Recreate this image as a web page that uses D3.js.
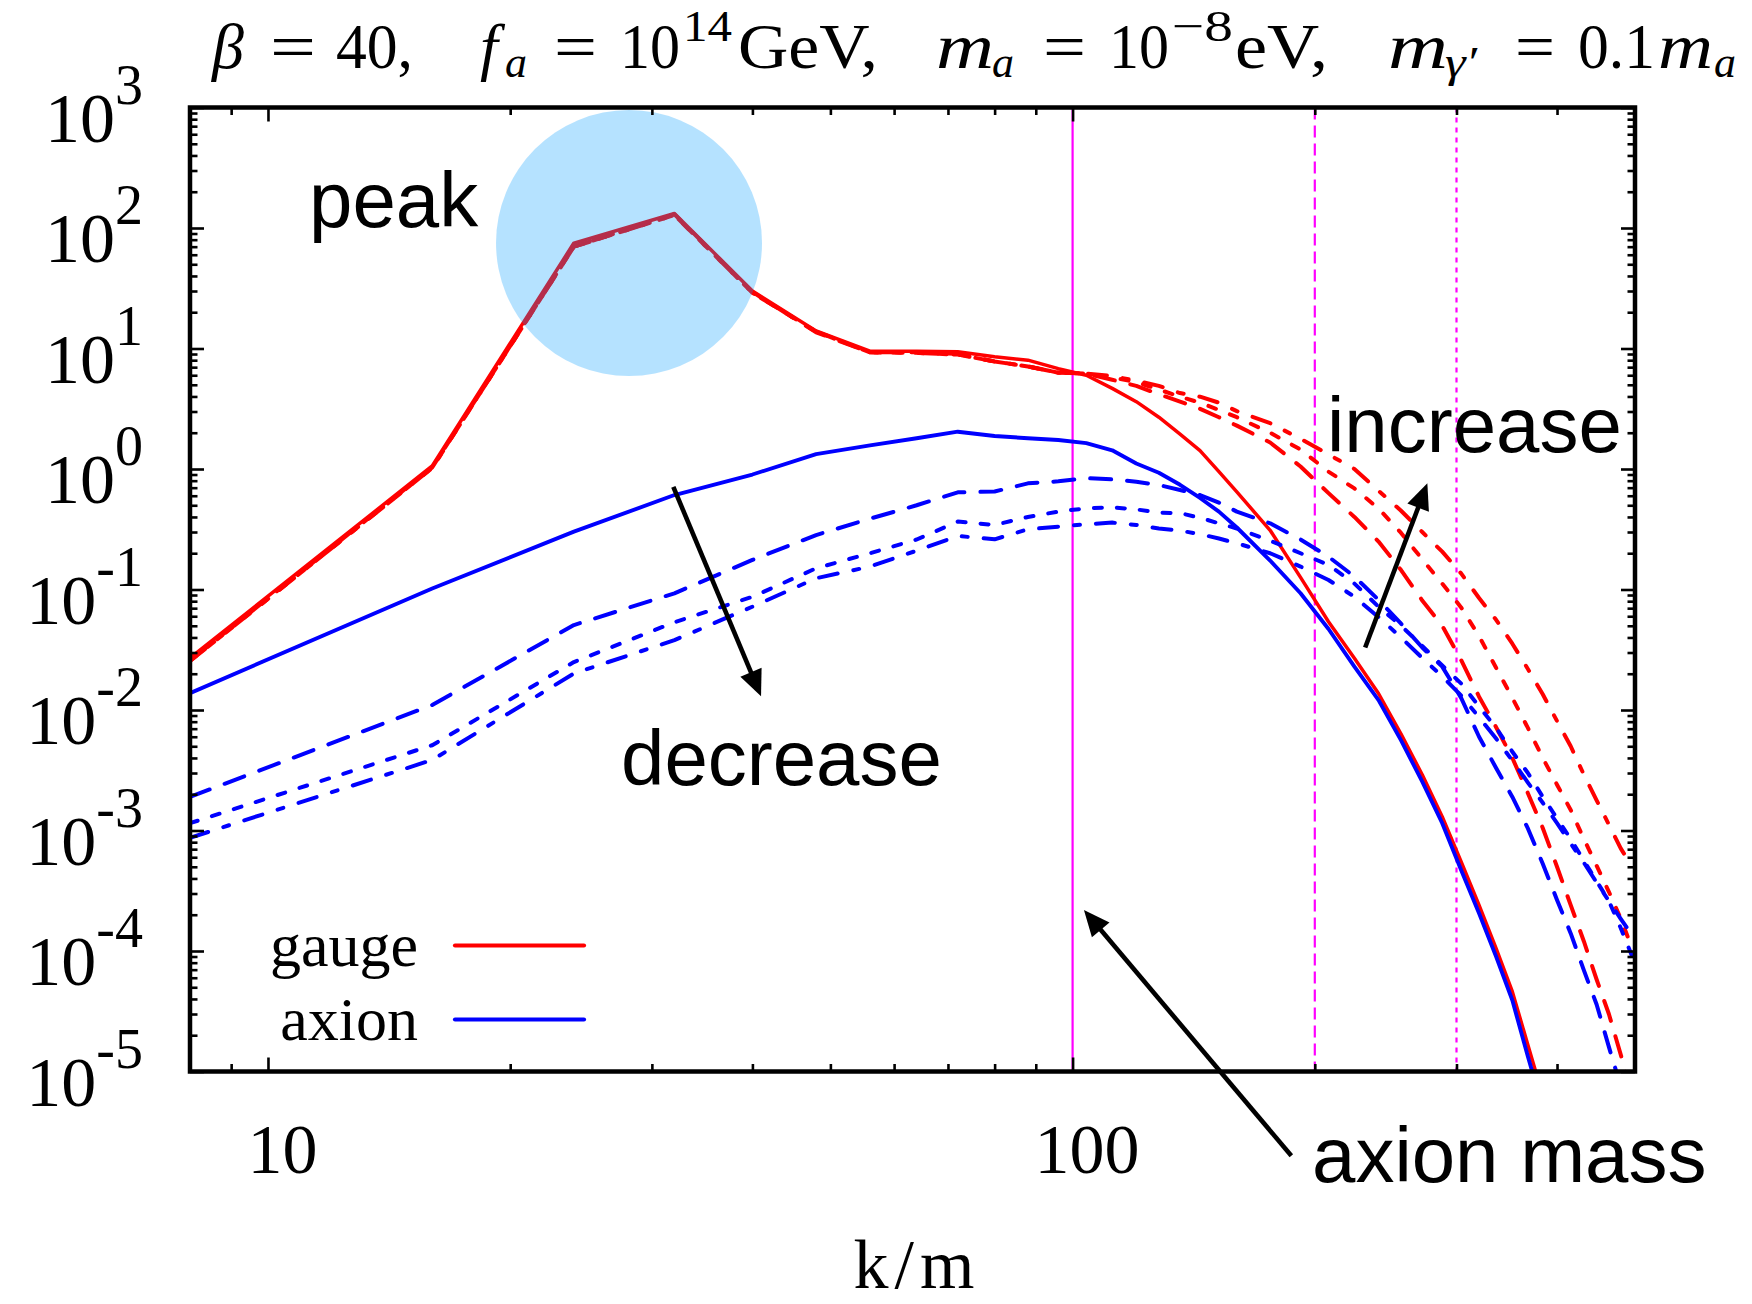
<!DOCTYPE html>
<html>
<head>
<meta charset="utf-8">
<script src="https://cdn.jsdelivr.net/npm/d3@7"></script>
<style>
  html, body { margin: 0; padding: 0; background: #fff; }
  svg { display: block; }
</style>
</head>
<body>
<svg id="chart" width="1752" height="1304"></svg>
<script>
// Wavenumber grid k/m shared by all spectra
const kGrid = [8,16,24,32,40,48,56,64,72,80,88,96,104,112,120,128,136,144,152,160,
               176,192,208,224,240,256,272,288,304,320,336,352,368,384,400,416,432,448,464,480,496];

// Gauge-field spectra (four dark-photon cases)
const gaugeSolid = [0.027,1.06,75,132,30,14.0,9.5,9.5,9.4,8.55,8.0,6.8,6.0,4.67,3.62,2.69,1.95,1.42,0.95,0.645,
                    0.31,0.126,0.054,0.0269,0.0137,0.0063,0.0029,0.0013,0.00055,0.00024,0.000105,4.6e-5,1.66e-5,6.3e-6];
const gaugeLong = [0.0258,1.03,70,130,29.5,13.6,9.3,9.3,9.0,7.8,7.1,6.3,6.2,5.5,4.9,4.17,3.63,3.16,2.69,2.29,
                   1.66,1.05,0.63,0.40,0.25,0.145,0.081,0.050,0.026,0.0129,0.0072,0.0040,0.00204,0.00105,0.0005,0.00024,0.00012,5.8e-5,3.0e-5,1.38e-5,6.3e-6];
const gaugeShort = [0.0255,1.02,70,128,29,13.8,9.3,9.2,8.9,7.8,7.1,6.3,6.2,5.75,5.25,4.57,3.98,3.55,3.09,2.69,
                    2.0,1.45,0.95,0.69,0.47,0.295,0.178,0.112,0.071,0.041,0.0224,0.0126,0.0071,0.0040,0.0024,0.00148,0.00085,0.00051,0.00031,0.000186,0.000105];
const gaugeDashDot = [0.0255,1.02,70,128,29,13.8,9.3,9.2,8.9,7.8,7.1,6.3,6.2,5.9,5.4,4.9,4.27,3.98,3.55,3.02,
                      2.4,1.78,1.32,1.0,0.66,0.45,0.30,0.206,0.136,0.085,0.056,0.0355,0.0219,0.0135,0.0081,0.0050,0.0029,0.00178,0.00112,0.00071,0.0005];

// Axion spectra (same four cases)
const axionSolid = [0.0138,0.102,0.302,0.608,0.90,1.33,1.57,1.80,2.04,1.88,1.80,1.74,1.64,1.43,1.11,0.93,0.74,0.575,0.443,0.327,
                    0.174,0.093,0.047,0.0229,0.0121,0.0056,0.00254,0.00115,0.00047,0.000206,9.0e-5,3.9e-5,1.33e-5,5e-6];
const axionLong = [0.0019,0.011,0.0507,0.093,0.176,0.283,0.387,0.50,0.64,0.65,0.76,0.79,0.84,0.82,0.785,0.736,0.67,0.608,0.526,0.443,
                   0.354,0.26,0.187,0.128,0.082,0.052,0.033,0.0229,0.0126,0.0060,0.0033,0.0019,0.00104,0.00053,0.000265,0.00014,6.9e-5,3.6e-5,1.6e-5,7.5e-6];
const axionShort = [0.00115,0.0051,0.025,0.0535,0.087,0.15,0.20,0.26,0.366,0.343,0.40,0.443,0.472,0.481,0.462,0.435,0.43,0.394,0.354,0.321,
                    0.254,0.20,0.16,0.112,0.072,0.050,0.034,0.0234,0.0166,0.0107,0.0071,0.0045,0.0030,0.0019,0.00126,0.00085,0.00056,0.00038,0.00026,0.000155,9.0e-5];
const axionDashDot = [0.00087,0.00385,0.0201,0.038,0.072,0.124,0.155,0.21,0.278,0.261,0.316,0.332,0.348,0.359,0.343,0.321,0.308,0.288,0.265,0.242,
                      0.20,0.155,0.12,0.087,0.059,0.040,0.027,0.019,0.0132,0.0087,0.0058,0.0038,0.0025,0.0017,0.00115,0.00078,0.00054,0.00037,0.00026,0.000185,0.000135];

// Mass scales marked by vertical lines (k/m)
const massLines = [100, 200, 300];

// Axis ticks
const xMajorTicks = [10, 100];
const xTickLabels = ["10", "100"];
const yExponents = [-5, -4, -3, -2, -1, 0, 1, 2, 3];

// Legend entries
const legendLabels = ["gauge", "axion"];

// Annotations (in data coordinates)
const peakSpot = { k: 28.1, v: 75 };
const arrowDecrease = { from: [31.9, 0.71], to: [41, 0.013] };
const arrowIncrease = { from: [231, 0.033], to: [276, 0.76] };
const arrowMass = { from: [187, 2.0e-6], to: [103.3, 2.19e-4] };

// ---------------------------------------------------------------
const svg = d3.select("#chart");
const SERIF = "'Liberation Serif', 'Times New Roman', serif";
const SANS = "'Liberation Sans', Arial, Helvetica, sans-serif";

const plot = { left: 190, right: 1635, top: 107.5, bottom: 1071.5 };
const x = d3.scaleLog().domain([8, 500]).range([plot.left, plot.right]);
const y = d3.scaleLog().domain([1e-5, 1e3]).range([plot.bottom, plot.top]);

svg.append("rect").attr("width", 1752).attr("height", 1304).attr("fill", "#fff");

svg.append("defs").append("clipPath").attr("id", "plotClip")
  .append("rect")
  .attr("x", plot.left).attr("y", plot.top)
  .attr("width", plot.right - plot.left).attr("height", plot.bottom - plot.top);

// Vertical mass lines
const massStyles = ["none", "12,6", "5,5"];
svg.append("g").selectAll("line").data(massLines).join("line")
  .attr("x1", d => x(d)).attr("x2", d => x(d))
  .attr("y1", plot.top).attr("y2", plot.bottom)
  .attr("stroke", "#ff00ff").attr("stroke-width", 2.2)
  .attr("stroke-dasharray", (d, i) => massStyles[i]);

// Spectra
const LW = 4.0;
const dashLong = "21,16";
const dashShort = "8,15";
const dashDot = "19,16,6,16";
const series = [
  { values: gaugeDashDot, color: "#ff0000", dash: dashDot },
  { values: gaugeShort, color: "#ff0000", dash: dashShort },
  { values: gaugeLong, color: "#ff0000", dash: dashLong },
  { values: gaugeSolid, color: "#ff0000", dash: null, lw: 3.5 },
  { values: axionDashDot, color: "#0000ff", dash: dashDot },
  { values: axionShort, color: "#0000ff", dash: dashShort },
  { values: axionLong, color: "#0000ff", dash: dashLong },
  { values: axionSolid, color: "#0000ff", dash: null, lw: 3.9 }
];

const line = d3.line().x(d => x(d[0])).y(d => y(d[1]));
const gLines = svg.append("g").attr("clip-path", "url(#plotClip)");
series.forEach(s => {
  const pts = s.values.map((v, i) => [kGrid[i], v]);
  gLines.append("path")
    .attr("d", line(pts))
    .attr("fill", "none")
    .attr("stroke", s.color)
    .attr("stroke-width", s.lw || LW)
    .attr("stroke-linejoin", "round")
    .attr("stroke-linecap", s.dash ? "round" : "butt")
    .attr("stroke-dasharray", s.dash);
});

// Translucent highlight around the spectral peak
svg.append("circle")
  .attr("cx", x(peakSpot.k)).attr("cy", y(peakSpot.v)).attr("r", 133)
  .attr("fill", "rgb(0,156,255)").attr("fill-opacity", 0.29);

// Axes: ticks on all four sides, pointing inwards
const xMinor = x.ticks().filter(t => !xMajorTicks.includes(t) && t > 8 && t < 500);
const yMajor = yExponents.map(e => Math.pow(10, e));
const yMinor = y.ticks().filter(t => {
  const l = Math.log10(t);
  return Math.abs(l - Math.round(l)) > 1e-6;
});

function styleAxis(g) {
  g.select(".domain").remove();
  g.selectAll(".tick line").attr("stroke", "#000").attr("stroke-width", 2.6);
  g.selectAll(".tick text").remove();
}
const MAJ = 14, MIN = 7.5;
svg.append("g").attr("transform", `translate(0,${plot.bottom})`)
  .call(d3.axisBottom(x).tickValues(xMajorTicks).tickSize(-MAJ).tickFormat("")).call(styleAxis);
svg.append("g").attr("transform", `translate(0,${plot.bottom})`)
  .call(d3.axisBottom(x).tickValues(xMinor).tickSize(-MIN).tickFormat("")).call(styleAxis);
svg.append("g").attr("transform", `translate(0,${plot.top})`)
  .call(d3.axisTop(x).tickValues(xMajorTicks).tickSize(-MAJ).tickFormat("")).call(styleAxis);
svg.append("g").attr("transform", `translate(0,${plot.top})`)
  .call(d3.axisTop(x).tickValues(xMinor).tickSize(-MIN).tickFormat("")).call(styleAxis);
svg.append("g").attr("transform", `translate(${plot.left},0)`)
  .call(d3.axisLeft(y).tickValues(yMajor).tickSize(-MAJ).tickFormat("")).call(styleAxis);
svg.append("g").attr("transform", `translate(${plot.left},0)`)
  .call(d3.axisLeft(y).tickValues(yMinor).tickSize(-MIN).tickFormat("")).call(styleAxis);
svg.append("g").attr("transform", `translate(${plot.right},0)`)
  .call(d3.axisRight(y).tickValues(yMajor).tickSize(-MAJ).tickFormat("")).call(styleAxis);
svg.append("g").attr("transform", `translate(${plot.right},0)`)
  .call(d3.axisRight(y).tickValues(yMinor).tickSize(-MIN).tickFormat("")).call(styleAxis);

// Frame
svg.append("rect")
  .attr("x", plot.left).attr("y", plot.top)
  .attr("width", plot.right - plot.left).attr("height", plot.bottom - plot.top)
  .attr("fill", "none").attr("stroke", "#000").attr("stroke-width", 4.5);

// Y tick labels 10^e
const yLab = svg.append("g").attr("font-family", SERIF).attr("fill", "#000");
yExponents.forEach(e => {
  const t = yLab.append("text")
    .attr("x", 143).attr("y", y(Math.pow(10, e)) + 34)
    .attr("text-anchor", "end").attr("font-size", 70);
  t.append("tspan").text("10");
  t.append("tspan").attr("dy", -38).attr("font-size", 56).text(e < 0 ? "-" + Math.abs(e) : String(e));
});

// X tick labels
svg.append("g").selectAll("text").data(xMajorTicks).join("text")
  .attr("x", d => x(d) + 14.5).attr("y", 1173)
  .attr("text-anchor", "middle")
  .attr("font-family", SERIF).attr("font-size", 70)
  .text((d, i) => xTickLabels[i]);

// X axis title
const xt = svg.append("text").attr("x", 914).attr("y", 1288)
  .attr("text-anchor", "middle").attr("font-family", SERIF).attr("font-size", 70);
xt.append("tspan").text("k");
xt.append("tspan").attr("dx", 6).text("/");
xt.append("tspan").attr("dx", 6).text("m");

// Title (math-style parameters line)
const titleParts = [
  { t: "β", x: 212, it: true },
  { t: "=", x: 270, w: 46 },
  { t: "40,", x: 336, w: 77 },
  { t: "f", x: 480, it: true },
  { t: "a", x: 505, kind: "sub", it: true },
  { t: "=", x: 554, w: 43 },
  { t: "10", x: 620, w: 60 },
  { t: "14", x: 683, kind: "sup", w: 49 },
  { t: "GeV,", x: 738, w: 140 },
  { t: "m", x: 936, it: true, w: 58 },
  { t: "a", x: 992, kind: "sub", it: true },
  { t: "=", x: 1043, w: 43 },
  { t: "10", x: 1109, w: 60 },
  { t: "−8", x: 1172, kind: "sup", w: 61 },
  { t: "eV,", x: 1235, w: 93 },
  { t: "m", x: 1388, it: true, w: 60 },
  { t: "γ′", x: 1445, kind: "sub", it: true, w: 32 },
  { t: "=", x: 1515, w: 40 },
  { t: "0.1", x: 1578, w: 77 },
  { t: "m", x: 1658, it: true, w: 55 },
  { t: "a", x: 1714, kind: "sub", it: true }
];
const gTitle = svg.append("g").attr("font-family", SERIF).attr("fill", "#000");
titleParts.forEach(p => {
  const base = p.kind === "sub" ? 77 : p.kind === "sup" ? 41 : 68;
  const t = gTitle.append("text")
    .attr("x", p.x).attr("y", base)
    .attr("font-size", p.kind ? 44 : 64)
    .attr("font-style", p.it ? "italic" : "normal")
    .text(p.t);
  if (p.w) t.attr("textLength", p.w).attr("lengthAdjust", "spacingAndGlyphs");
});

// Legend
const legendColors = ["#ff0000", "#0000ff"];
const legendY = [966, 1040];
const gLeg = svg.append("g");
legendLabels.forEach((lab, i) => {
  gLeg.append("text").attr("x", 418).attr("y", legendY[i])
    .attr("text-anchor", "end").attr("font-family", SERIF).attr("font-size", 62).text(lab);
  gLeg.append("line")
    .attr("x1", 455).attr("x2", 584)
    .attr("y1", legendY[i] - 20.5).attr("y2", legendY[i] - 20.5)
    .attr("stroke", legendColors[i]).attr("stroke-width", 4.2).attr("stroke-linecap", "round");
});

// Annotation texts
const notes = [
  { t: "peak", x: 309, y: 227 },
  { t: "decrease", x: 621, y: 785 },
  { t: "increase", x: 1327, y: 452 },
  { t: "axion mass", x: 1312, y: 1182 }
];
svg.append("g").selectAll("text").data(notes).join("text")
  .attr("x", d => d.x).attr("y", d => d.y)
  .attr("font-family", SANS).attr("font-size", 78).attr("fill", "#000")
  .text(d => d.t);

// Arrows
function drawArrow(a) {
  const x1 = x(a.from[0]), y1 = y(a.from[1]);
  const x2 = x(a.to[0]), y2 = y(a.to[1]);
  const dx = x2 - x1, dy = y2 - y1, len = Math.hypot(dx, dy);
  const ux = dx / len, uy = dy / len;
  const headL = 26, headW = 11.5;
  const bx = x2 - ux * headL, by = y2 - uy * headL;
  svg.append("line")
    .attr("x1", x1).attr("y1", y1).attr("x2", bx + ux * 2).attr("y2", by + uy * 2)
    .attr("stroke", "#000").attr("stroke-width", 4.6);
  svg.append("polygon")
    .attr("points", [[x2, y2], [bx - uy * headW, by + ux * headW], [bx + uy * headW, by - ux * headW]]
      .map(p => p.join(",")).join(" "))
    .attr("fill", "#000");
}
[arrowDecrease, arrowIncrease, arrowMass].forEach(drawArrow);
</script>
</body>
</html>
